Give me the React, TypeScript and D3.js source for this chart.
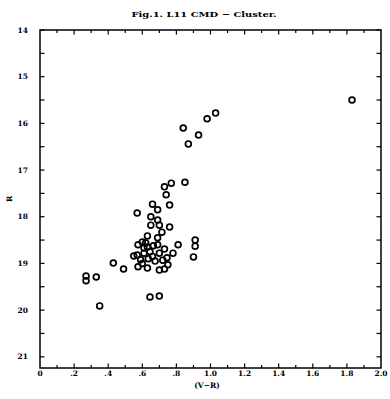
import * as d3 from 'd3'

// (V-R) colour vs R magnitude
const vr = [
  1.83, 1.03, 0.98, 0.84, 0.93, 0.87, 0.77, 0.85, 0.73, 0.74,
  0.66, 0.76, 0.69, 0.57, 0.65, 0.69, 0.65, 0.70, 0.76, 0.715,
  0.63, 0.69, 0.60, 0.575, 0.63, 0.61, 0.69, 0.81, 0.73, 0.91,
  0.91, 0.90, 0.645, 0.61, 0.57, 0.70, 0.78, 0.59, 0.635, 0.745,
  0.575, 0.63, 0.70, 0.73, 0.75, 0.43, 0.49, 0.33, 0.27, 0.27,
  0.35, 0.645, 0.70, 0.675, 0.66, 0.60, 0.62, 0.665, 0.55, 0.72,
]
const rMag = [
  15.5, 15.78, 15.9, 16.1, 16.25, 16.44, 17.28, 17.26, 17.36, 17.53,
  17.73, 17.75, 17.85, 17.92, 18.0, 18.07, 18.18, 18.18, 18.22, 18.33,
  18.41, 18.45, 18.54, 18.6, 18.65, 18.67, 18.6, 18.6, 18.69, 18.5,
  18.63, 18.86, 18.75, 18.78, 18.82, 18.78, 18.78, 18.92, 18.9, 18.88,
  19.07, 19.1, 19.14, 19.12, 19.03, 18.99, 19.12, 19.29, 19.27, 19.37,
  19.91, 19.72, 19.70, 18.95, 18.85, 19.0, 18.56, 18.62, 18.84, 18.93,
]
const xTickLabels = ['0', '.2', '.4', '.6', '.8', '1.0', '1.2', '1.4', '1.6', '1.8', '2.0']
const yTickLabels = ['14', '15', '16', '17', '18', '19', '20', '21']

const W = 390, H = 399
const m = { l: 40, r: 9, t: 30, b: 31 }
const FONT = '"DejaVu Serif", serif'

export default function App() {
  const x = d3.scaleLinear().domain([0, 2]).range([m.l, W - m.r])
  const y = d3.scaleLinear().domain([14, 21.24]).range([m.t, H - m.b])
  const x0 = x(0), x1 = x(2), y0 = y(14), y1 = y(21.24)

  const xMinor = d3.range(1, 20).map(i => i / 10)
  const yMinor = d3.range(28, 43).map(i => i / 2)

  return (
    <div style={{ position: 'fixed', left: 0, top: 0 }}>
      <svg width={W} height={H} style={{ display: 'block', background: '#fff' }}>
        <text x={204} y={17} textAnchor="middle" fontFamily={FONT} fontWeight="bold" fontSize={8}
          textLength={145} lengthAdjust="spacingAndGlyphs">Fig.1. L11 CMD − Cluster.</text>

        {/* ticks, inward on all four sides */}
        {xMinor.map(v => {
          const major = Math.round(v * 10) % 2 === 0
          const len = major ? 4.5 : 3
          return (
            <g key={'x' + v} stroke="#000" strokeWidth={1.2}>
              <line x1={x(v)} x2={x(v)} y1={y1} y2={y1 - len}/>
              <line x1={x(v)} x2={x(v)} y1={y0} y2={y0 + len}/>
            </g>
          )
        })}
        {yMinor.map(v => (
          <g key={'y' + v} stroke="#000" strokeWidth={1.2}>
            <line x1={x0} x2={x0 + 4.5} y1={y(v)} y2={y(v)}/>
            <line x1={x1} x2={x1 - 4.5} y1={y(v)} y2={y(v)}/>
          </g>
        ))}

        <rect x={x0} y={y0} width={x1 - x0} height={y1 - y0} fill="none" stroke="#000" strokeWidth={1.5}/>

        {xTickLabels.map((t, i) => (
          <text key={t} x={x(i * 0.2)} y={376} textAnchor="middle" fontFamily={FONT}
            fontWeight="bold" fontSize={7.5}>{t}</text>
        ))}
        {yTickLabels.map(t => (
          <text key={t} x={28} y={y(+t) + 2.5} textAnchor="end" fontFamily={FONT}
            fontWeight="bold" fontSize={7.5}>{t}</text>
        ))}

        <text x={207} y={388} textAnchor="middle" fontFamily={FONT} fontWeight="bold" fontSize={7.5}>(V−R)</text>
        <text transform={`translate(12,${(y0 + y1) / 2}) rotate(-90)`} textAnchor="middle" fontFamily={FONT}
          fontWeight="bold" fontSize={7.5}>R</text>

        {vr.map((v, i) => (
          <circle key={i} cx={x(v)} cy={y(rMag[i])} r={2.9} fill="none" stroke="#000" strokeWidth={1.7}/>
        ))}
      </svg>
    </div>
  )
}
